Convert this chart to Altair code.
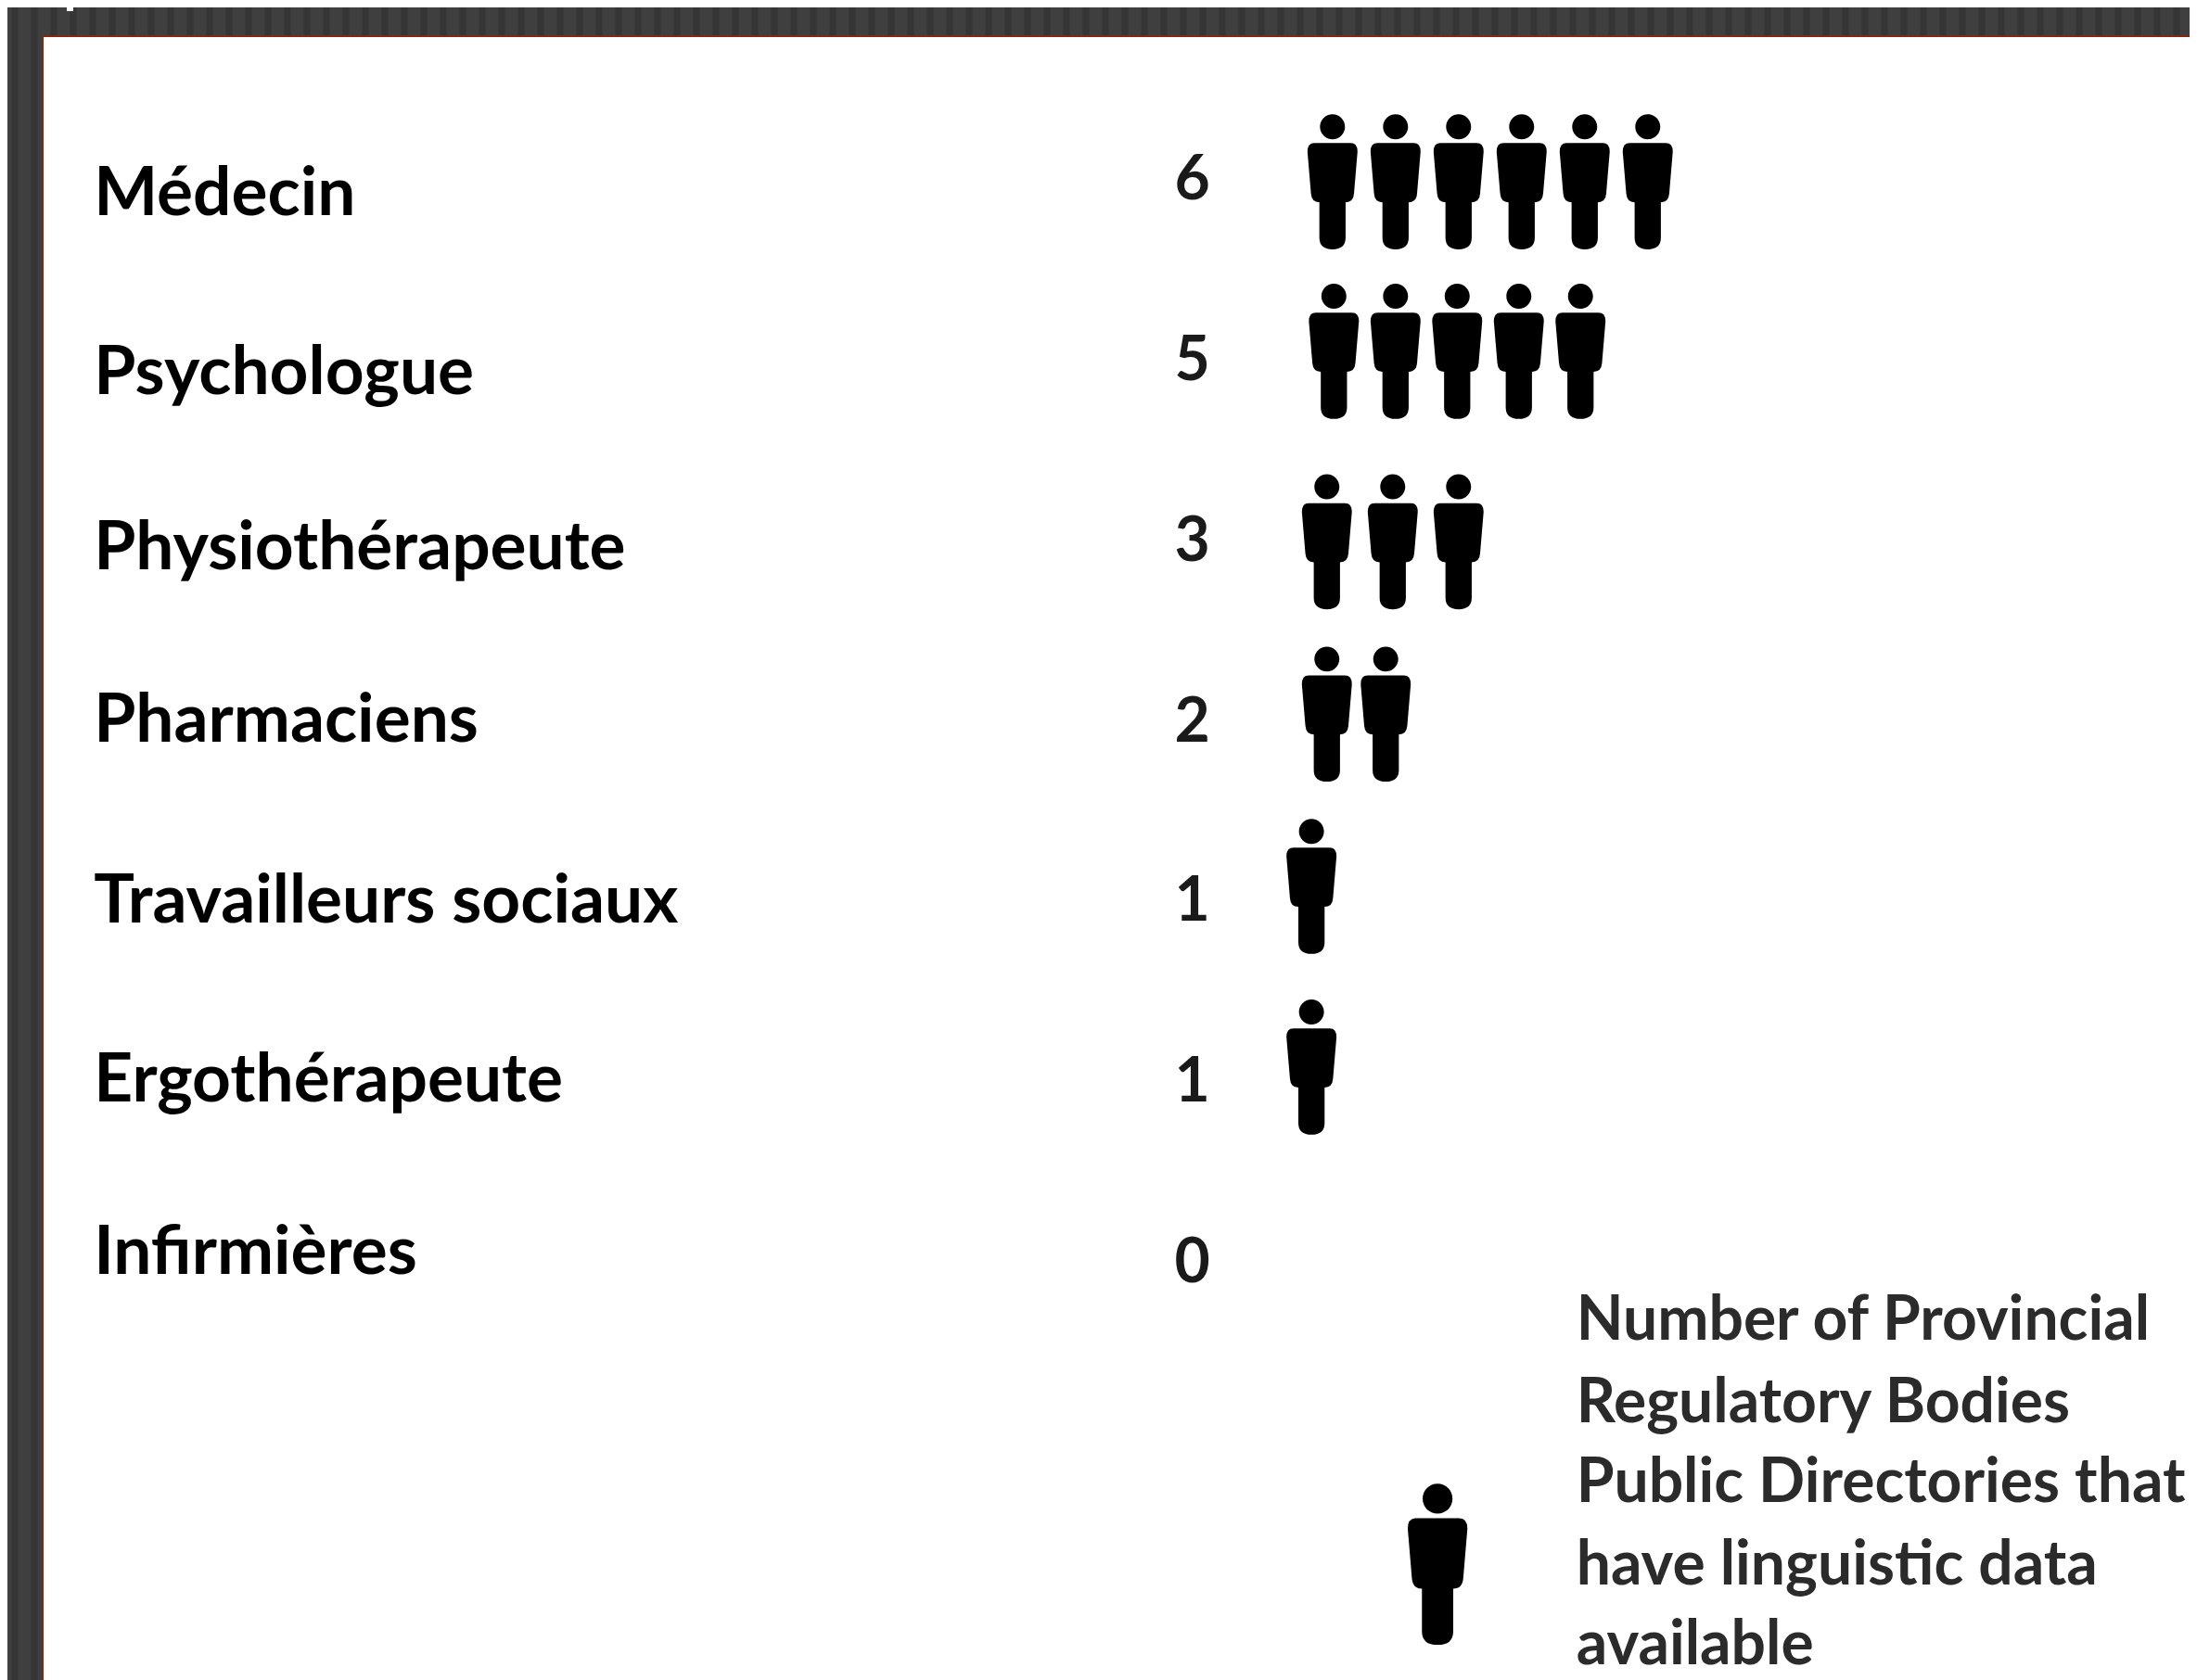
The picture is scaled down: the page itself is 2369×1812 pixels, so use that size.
import altair as alt
import pandas as pd

# ---- values ----
categories = ["Médecin", "Psychologue", "Physiothérapeute", "Pharmaciens",
              "Travailleurs sociaux", "Ergothérapeute", "Infirmières"]
counts = [6, 5, 3, 2, 1, 1, 0]
legend_lines = ["Number of Provincial", "Regulatory Bodies",
                "Public Directories that", "have linguistic data", "available"]

W, H = 2353, 1804
K = 2369 / 1568


def px(v):
    """shrunk-reference coordinate -> chart pixel"""
    return v * K - 8


PERSON = ("M-0.186 -0.823 A0.186 0.186 0 1 1 0.186 -0.823 A0.186 0.186 0 1 1 -0.186 -0.823 Z "
          "M-0.27 -0.58 L0.27 -0.58 Q0.372 -0.58 0.372 -0.45 L0.32 0.17 Q0.31 0.30 0.195 0.30 "
          "L0.195 0.83 Q0.195 1 0 1 Q-0.195 1 -0.195 0.83 L-0.195 0.30 Q-0.31 0.30 -0.32 0.17 "
          "L-0.372 -0.45 Q-0.372 -0.58 -0.27 -0.58 Z")
FONT = "Lato"
rows = list(range(len(categories)))

label_y = [px(v) for v in [139, 267, 392, 515, 644, 772, 895]]
value_y = [px(v) for v in [129, 258, 387, 516, 644, 773, 902]]
icon_y = [px(v) for v in [130, 251, 387, 510, 633, 762, 890]]
icon_x0 = [951, 952, 947, 947, 936, 936]
icon_step = [45, 44, 47, 42, 44, 44]
legend_y = [px(v) for v in [943, 1002, 1059, 1118, 1175]]


def row_scale(rng):
    return alt.Scale(domain=list(range(len(rng))), range=rng, nice=False, zero=False)


# ---- background ----
stripes = pd.DataFrame({"s": list(range(8, W + 21, 21))})
pix_x = alt.Scale(domain=[0, W], range=[0, W])
bg = (alt.Chart(stripes).mark_rule(color="#353535", strokeWidth=7)
      .encode(x=alt.X("s:Q", scale=pix_x, axis=None), y=alt.value(0), y2=alt.value(H)))
panel = (alt.Chart(pd.DataFrame({"a": [0]})).mark_rect(color="#ffffff", stroke="#7f2a10", strokeWidth=2)
         .encode(x=alt.value(38), x2=alt.value(W + 10), y=alt.value(31), y2=alt.value(H + 10)))
tick = (alt.Chart(pd.DataFrame({"a": [0]})).mark_rect(color="#ffffff")
        .encode(x=alt.value(64), x2=alt.value(71), y=alt.value(0), y2=alt.value(4)))

table = pd.DataFrame({"category": categories, "count": counts, "row": rows})

labels = (alt.Chart(table)
          .mark_text(align="left", baseline="middle", font=FONT, fontWeight="bold", fontSize=73, color="#000000")
          .encode(x=alt.value(px(67)),
                  y=alt.Y("row:Q", axis=None, scale=row_scale(label_y)),
                  text="category:N"))
values = (alt.Chart(table)
          .mark_text(align="center", baseline="middle", font=FONT, fontWeight="bold", fontSize=66, color="#1a1a1a")
          .encode(x=alt.value(px(851)),
                  y=alt.Y("row:Q", axis=None, scale=row_scale(value_y)),
                  text="count:Q"))

layers = [bg, panel, tick, labels, values]

# one person per counted unit, one layer per row
for r, n, x0, step in zip(rows, counts, icon_x0, icon_step):
    if n == 0:
        continue
    row = pd.DataFrame({"row": [r] * n, "slot": list(range(n))})
    layers.append(
        alt.Chart(row)
        .mark_point(shape=PERSON, filled=True, size=145 ** 2, color="#000000", opacity=1, strokeWidth=0)
        .encode(x=alt.X("slot:Q", axis=None,
                        scale=alt.Scale(domain=[0, 5], range=[px(x0), px(x0 + 5 * step)], nice=False, zero=False)),
                y=alt.Y("row:Q", axis=None, scale=row_scale(icon_y)))
    )

legend_icon = (alt.Chart(pd.DataFrame({"a": [0]}))
               .mark_point(shape=PERSON, filled=True, size=173 ** 2, color="#000000", opacity=1, strokeWidth=0)
               .encode(x=alt.value(px(1026)), y=alt.value(px(1117))))
legend_text = (alt.Chart(pd.DataFrame({"line": legend_lines, "n": list(range(len(legend_lines)))}))
               .mark_text(align="left", baseline="middle", font=FONT, fontWeight="bold", fontSize=66, color="#2b2b2b")
               .encode(x=alt.value(px(1125)),
                       y=alt.Y("n:Q", axis=None, scale=row_scale(legend_y)),
                       text="line:N"))
layers += [legend_icon, legend_text]

chart = (alt.layer(*layers)
         .resolve_scale(x="independent", y="independent")
         .properties(width=W, height=H, padding=0, background="#3f3f3f",
                     autosize=alt.AutoSizeParams(type="none"))
         .configure_view(stroke=None))

chart.save("out.html", embed_options={"renderer": "svg", "actions": False})
